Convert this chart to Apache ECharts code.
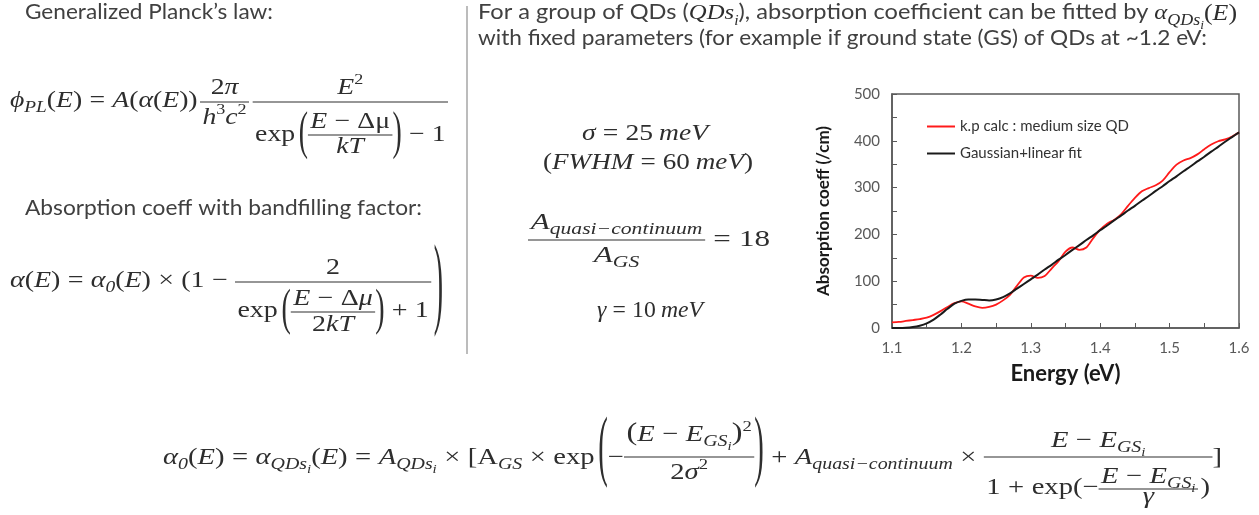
<!DOCTYPE html>
<html><head><meta charset="utf-8">
<script src="https://cdn.jsdelivr.net/npm/echarts@6/dist/echarts.min.js"></script>
<style>html,body{margin:0;padding:0;background:#fff}#c{width:1259px;height:515px}</style>
</head><body><div id="c"></div>
<script>
// ---------------- data ----------------
const energy = [1.10,1.11,1.12,1.13,1.14,1.15,1.16,1.17,1.18,1.19,1.20,1.21,1.22,1.23,1.24,1.25,1.26,1.27,1.28,1.29,1.30,1.31,1.32,1.33,1.34,1.35,1.36,1.37,1.38,1.39,1.40,1.41,1.42,1.43,1.44,1.45,1.46,1.47,1.48,1.49,1.50,1.51,1.52,1.53,1.54,1.55,1.56,1.57,1.58,1.59,1.60];
const kpCalc = [12,13,15,17,19,22,28,36,45,53,57,52,46,43,45,50,59,71,90,108,112,107,111,127,143,163,172,167,172,192,210,223,231,243,261,278,292,299,305,315,333,349,358,363,371,382,392,399,403,409,418];
const gaussFit = [0,0,0.5,2,5,10,18,29,41,52,58,61,61,60,59,61,66,74,84,94,104,114,125,135,146,156,167,177,188,198,209,219,230,240,251,261,272,282,293,303,314,324,335,345,356,366,377,387,398,408,418];
const seriesNames = ['k.p calc : medium size QD','Gaussian+linear fit'];
const xAxisName = 'Energy (eV)';
const yAxisName = 'Absorption coeff (/cm)';

// ---------------- mini typesetter ----------------
const SERIF = '"Liberation Serif", "DejaVu Serif", serif';
const SANS = 'Lato, "Open Sans", sans-serif';
const MC = '#2e2e2e', TC = '#404040';
const cv = document.createElement('canvas'); const ctx = cv.getContext('2d');
function fstr(o){ return (o.italic?'italic ':'') + (o.bold?'bold ':'') + o.size + 'px ' + o.family; }
function mw(t,o){ ctx.font = fstr(o); return ctx.measureText(t).width; }
const moCache = {};
function midOff(o){ const f = fstr(o); if (moCache[f] !== undefined) return moCache[f];
  ctx.font = f; ctx.textBaseline = 'alphabetic'; const m = ctx.measureText('Hxg');
  let v = (m.fontBoundingBoxAscent - m.fontBoundingBoxDescent)/2;
  if (!(v > 0.1*o.size && v < 0.6*o.size)) v = 0.3*o.size; moCache[f] = v; return v; }
function T(t,o){ const w = mw(t,o); return {w, build(x,b,out){
  out.push({type:'text', x:x, y:b + (o.dy||0) - midOff(o), silent:true,
    style:{text:t, font:fstr(o), fill:o.color||MC, align:'left', verticalAlign:'middle'}}); }}; }
function H(){ const items = Array.from(arguments); return {w: items.reduce((s,i)=>s+i.w,0), build(x,b,out){ let cx=x; items.forEach(i=>{ i.build(cx,b,out); cx+=i.w; }); }}; }
function S(w){ return {w, build(){}}; }
function Frac(num, den, o){ o = Object.assign({numGap:7, denGap:20, axis:7, pad:2, lw:1.2}, o||{});
  const w = Math.max(num.w, den.w) + 2*o.pad;
  return {w, build(x,b,out){ const ay = b - o.axis;
    out.push({type:'line', silent:true, shape:{x1:x, y1:ay, x2:x+w, y2:ay}, style:{stroke:MC, lineWidth:o.lw}});
    num.build(x + (w-num.w)/2, ay - o.numGap, out); den.build(x + (w-den.w)/2, ay + o.denGap, out); }}; }
function P(ch, h, o){ o = o||{}; const st = {size:o.size||23, family:SERIF};
  const w = mw(ch,st) + (o.extra||0);
  return {w, build(x,b,out){ const sy = h/(st.size*0.91); const cy = b + (o.cy!==undefined ? o.cy : -7);
    const d = (midOff(st) - 0.24*st.size)*sy;
    out.push({type:'text', x:x + (o.extra||0)/2, y:cy - d, scaleY:sy, silent:true,
      style:{text:ch, font:fstr(st), fill:MC, align:'left', verticalAlign:'middle'}}); }}; }
function place(box, x0, x1, b){ const out = []; box.build(0, b, out);
  const s = x1 ? (x1-x0)/box.w : 1; return {type:'group', x:x0, y:0, scaleX:s, children:out}; }

const MI = {size:23, italic:true, family:SERIF};
const MR = {size:23, family:SERIF};
const SUBI = {size:16, italic:true, family:SERIF, dy:5};
const SUBSUB = {size:12, italic:true, family:SERIF, dy:9};
const SUP = {size:15, family:SERIF, dy:-10};
const TXT = {size:21, family:SANS, color:TC};
const m = t => T(t, MI), r = t => T(t, MR);
const gsi = () => H(T('GS',SUBI), T('i',SUBSUB));
const qdsi = () => H(T('QDs',SUBI), T('i',SUBSUB));
const op = t => H(S(6), r(t), S(6));

// Equation 1: generalized Planck's law
const eq1 = H(T('ϕ',MI), T('PL',SUBI), r('('), m('E'), r(')'), op('='), m('A'), r('('), m('α'), r('('), m('E'), r('))'), S(2),
  Frac(H(r('2'), m('π')), H(m('h'), T('3',SUP), m('c'), T('2',SUP)), {numGap:7, denGap:23, axis:6}), S(3),
  Frac(H(m('E'), T('2',SUP)),
       H(r('exp'), S(3), P('(',48,{cy:-3}), Frac(H(m('E'), op('−'), r('Δμ')), m('kT'), {numGap:6, denGap:19, axis:7}), P(')',48,{cy:-3}), op('−'), r('1')),
       {numGap:7, denGap:40, axis:6}));
// Equation 2: bandfilling
const eq2 = H(m('α'), r('('), m('E'), r(')'), op('='), m('α'), T('0',SUBI), r('('), m('E'), r(')'), op('×'), r('(1'), op('−'),
  Frac(r('2'), H(r('exp'), S(3), P('(',46,{cy:-3}), Frac(H(m('E'), op('−'), r('Δ'), m('μ')), H(r('2'), m('kT')), {numGap:6, denGap:20, axis:6}), P(')',46,{cy:-3}), op('+'), r('1')),
    {numGap:7, denGap:36, axis:6}), S(2), P(')',92,{cy:9}));
// Middle parameters
const mid1 = H(m('σ'), op('='), r('25'), S(5), m('meV'));
const mid2 = H(r('('), m('FWHM'), op('='), r('60'), S(5), m('meV'), r(')'));
const mid3 = H(Frac(H(m('A'), T('quasi−continuum',SUBI)), H(m('A'), T('GS',SUBI)), {numGap:10, denGap:23, axis:7}), op('='), r('18'));
const mid4 = H(m('γ'), op('='), r('10'), S(5), m('meV'));
// Bottom equation
const eq4 = H(m('α'), T('0',SUBI), r('('), m('E'), r(')'), op('='), m('α'), qdsi(), r('('), m('E'), r(')'), op('='),
  m('A'), qdsi(), op('×'), r('[A'), T('GS',SUBI), op('×'), r('exp'), S(3), P('(',72,{cy:-8}), r('−'),
  Frac(H(T('(',{size:26,family:SERIF}), m('E'), op('−'), m('E'), gsi(), T(')',{size:26,family:SERIF}), T('2',SUP)), H(r('2'), m('σ'), T('2',SUP)), {numGap:15, denGap:23, axis:8}),
  P(')',72,{cy:-8}), op('+'), m('A'), T('quasi−continuum',SUBI), op('×'),
  Frac(H(m('E'), op('−'), m('E'), gsi()),
       H(r('1'), op('+'), r('exp'), r('('), r('−'), Frac(H(m('E'), op('−'), m('E'), gsi()), m('γ'), {numGap:5, denGap:15, axis:6}), S(2), r(')')),
       {numGap:9, denGap:38, axis:8}), r(']'));
// Text lines
const line1 = H(T('For a group of QDs (',TXT), T('QDs',{size:22, italic:true, family:SERIF}), T('i',{size:14, italic:true, family:SERIF, dy:5}),
  T('), absorption coefficient can be fitted by ',TXT), T('α',{size:22, italic:true, family:SERIF}), qdsi(), r('('), m('E'), r(')'));
const line2 = T('with fixed parameters (for example if ground state (GS) of QDs at ~1.2 eV:', TXT);
const left1 = T('Generalized Planck’s law:', TXT);
const left2 = T('Absorption coeff with bandfilling factor:', TXT);

const graphics = [
  place(left1, 25, 273, 21),
  place(eq1, 10, 448, 108),
  place(left2, 25, 422, 217),
  place(eq2, 10, 443, 288),
  place(line1, 478, 1237, 21),
  place(line2, 478, 1207, 47),
  place(mid1, 582, 708, 141),
  place(mid2, 543, 753, 170),
  place(mid3, 528, 770, 247),
  place(mid4, 597, 703, 318),
  place(eq4, 163, 1222, 465),
  {type:'line', silent:true, shape:{x1:467, y1:6, x2:467, y2:354}, style:{stroke:'#a6a6a6', lineWidth:1.5}}
];

// ---------------- chart ----------------
const chart = echarts.init(document.getElementById('c'), null, {renderer:'canvas'});
const axisCol = '#595959';
chart.setOption({
  animation:false,
  backgroundColor:'#fff',
  grid:{left:892, right:20, top:94, bottom:187, show:true, borderColor:axisCol, borderWidth:1.5, containLabel:false},
  legend:{orient:'vertical', left:922, top:114, icon:'rect', itemWidth:28, itemHeight:2, itemGap:12,
    textStyle:{fontFamily:'Lato', fontSize:15, color:'#333'}, data:seriesNames},
  xAxis:{type:'value', min:1.1, max:1.6, interval:0.1, name:xAxisName, nameLocation:'middle', nameGap:35,
    nameTextStyle:{fontFamily:'Lato', fontWeight:'bold', fontSize:22, color:'#1a1a1a'},
    axisLine:{lineStyle:{color:axisCol, width:1.5}},
    axisTick:{inside:true, length:5, lineStyle:{color:axisCol}},
    minorTick:{show:true, splitNumber:2, length:5, lineStyle:{color:axisCol}},
    splitLine:{show:false},
    axisLabel:{margin:13, fontFamily:'Lato', fontSize:15, color:axisCol, formatter:v=>v.toFixed(1)}},
  yAxis:{type:'value', min:0, max:500, interval:100, name:yAxisName, nameLocation:'middle', nameGap:60,
    nameTextStyle:{fontFamily:'Lato', fontWeight:'bold', fontSize:17, color:'#1a1a1a'},
    axisLine:{show:true, lineStyle:{color:axisCol, width:1.5}},
    axisTick:{show:true, inside:true, length:5, lineStyle:{color:axisCol}},
    minorTick:{show:true, splitNumber:2, length:5, lineStyle:{color:axisCol}},
    splitLine:{show:false},
    axisLabel:{margin:12, fontFamily:'Lato', fontSize:15, color:axisCol}},
  series:[
    {name:seriesNames[0], type:'line', data:energy.map((e,i)=>[e,kpCalc[i]]), smooth:0.3, symbol:'none',
      lineStyle:{color:'#ff1a1a', width:1.8}, itemStyle:{color:'#ff1a1a'}},
    {name:seriesNames[1], type:'line', data:energy.map((e,i)=>[e,gaussFit[i]]), smooth:0.3, symbol:'none',
      lineStyle:{color:'#1a1a1a', width:2}, itemStyle:{color:'#1a1a1a'}}
  ],
  graphic:{elements:graphics}
});
</script></body></html>
